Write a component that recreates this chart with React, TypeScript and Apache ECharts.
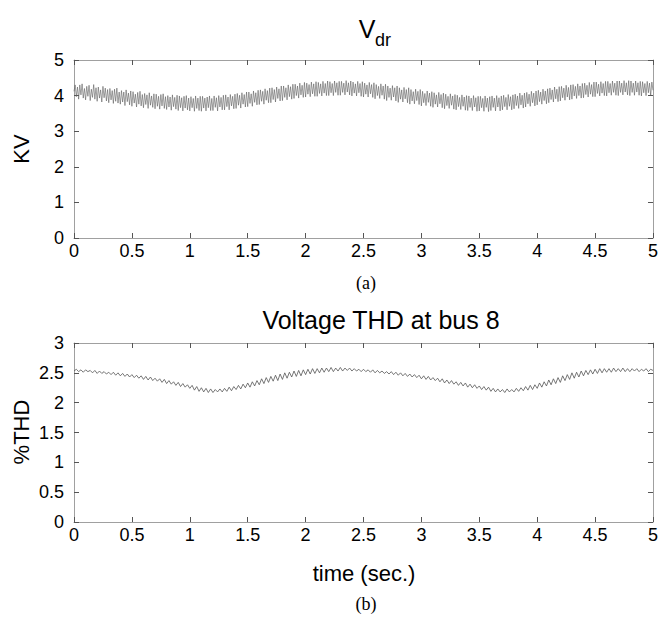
import React, { useEffect, useRef } from "react";
import * as echarts from "echarts";

// sample spacing of the traces, seconds
const vdrStep = 0.01;
const thdStep = 0.02;

// V_dr (kV), one value every 0.01 s from 0 to 5 s (one row = 0.1 s)
const vdrValues = [
  4.12, 4.30, 3.97, 4.24, 3.90, 4.30, 4.02, 4.33, 3.93, 4.20,
  3.88, 4.26, 3.98, 4.29, 3.86, 4.18, 3.95, 4.31, 3.90, 4.22,
  3.84, 4.24, 3.93, 4.16, 3.82, 4.26, 3.94, 4.21, 3.85, 4.17,
  3.80, 4.20, 3.88, 4.14, 3.78, 4.18, 3.84, 4.21, 3.79, 4.10,
  3.76, 4.14, 3.82, 4.10, 3.72, 4.16, 3.83, 4.07, 3.74, 4.13,
  3.70, 4.11, 3.79, 4.04, 3.68, 4.09, 3.76, 4.12, 3.71, 4.03,
  3.66, 4.06, 3.75, 4.02, 3.64, 4.08, 3.73, 3.99, 3.67, 4.05,
  3.63, 4.04, 3.70, 3.98, 3.62, 4.03, 3.71, 4.05, 3.64, 3.97,
  3.61, 4.00, 3.68, 3.96, 3.59, 4.02, 3.69, 3.95, 3.62, 4.01,
  3.58, 3.99, 3.66, 3.94, 3.57, 3.98, 3.65, 4.00, 3.60, 3.93,
  3.57, 3.97, 3.66, 3.92, 3.56, 3.99, 3.64, 3.93, 3.58, 3.98,
  3.56, 3.98, 3.65, 3.93, 3.57, 3.96, 3.66, 3.99, 3.58, 3.92,
  3.58, 3.99, 3.67, 3.94, 3.57, 4.00, 3.68, 3.95, 3.60, 4.01,
  3.60, 4.02, 3.69, 3.96, 3.60, 4.03, 3.71, 3.98, 3.63, 4.04,
  3.64, 4.06, 3.73, 4.01, 3.65, 4.08, 3.76, 4.03, 3.68, 4.10,
  3.69, 4.10, 3.78, 4.05, 3.70, 4.13, 3.81, 4.08, 3.74, 4.15,
  3.75, 4.16, 3.84, 4.12, 3.76, 4.19, 3.87, 4.14, 3.80, 4.21,
  3.80, 4.22, 3.89, 4.17, 3.82, 4.24, 3.92, 4.19, 3.85, 4.27,
  3.86, 4.27, 3.95, 4.22, 3.88, 4.30, 3.97, 4.25, 3.90, 4.32,
  3.92, 4.32, 4.00, 4.27, 3.93, 4.35, 4.02, 4.29, 3.95, 4.37,
  3.96, 4.35, 4.04, 4.31, 3.97, 4.38, 4.05, 4.33, 3.98, 4.39,
  3.98, 4.37, 4.06, 4.33, 3.99, 4.40, 4.07, 4.34, 4.00, 4.41,
  4.00, 4.39, 4.08, 4.34, 4.00, 4.41, 4.09, 4.36, 4.01, 4.40,
  4.01, 4.40, 4.09, 4.35, 4.02, 4.42, 4.10, 4.36, 4.02, 4.41,
  3.99, 4.38, 4.07, 4.33, 3.99, 4.40, 4.08, 4.34, 3.98, 4.39,
  3.96, 4.35, 4.04, 4.30, 3.96, 4.37, 4.05, 4.31, 3.95, 4.36,
  3.91, 4.31, 4.00, 4.26, 3.92, 4.33, 4.01, 4.27, 3.90, 4.32,
  3.86, 4.27, 3.95, 4.21, 3.87, 4.28, 3.96, 4.22, 3.85, 4.27,
  3.81, 4.22, 3.90, 4.16, 3.82, 4.23, 3.91, 4.17, 3.80, 4.22,
  3.76, 4.17, 3.85, 4.11, 3.77, 4.18, 3.86, 4.12, 3.75, 4.17,
  3.71, 4.12, 3.80, 4.06, 3.72, 4.13, 3.81, 4.07, 3.70, 4.11,
  3.67, 4.08, 3.76, 4.02, 3.68, 4.09, 3.77, 4.03, 3.66, 4.07,
  3.63, 4.04, 3.72, 3.98, 3.64, 4.05, 3.73, 3.99, 3.62, 4.03,
  3.60, 4.01, 3.69, 3.95, 3.61, 4.02, 3.70, 3.96, 3.59, 4.00,
  3.58, 3.99, 3.67, 3.93, 3.58, 4.00, 3.68, 3.94, 3.56, 3.98,
  3.57, 3.98, 3.66, 3.92, 3.56, 3.99, 3.67, 3.93, 3.55, 3.97,
  3.58, 3.99, 3.67, 3.93, 3.57, 4.00, 3.68, 3.94, 3.57, 3.99,
  3.60, 4.01, 3.69, 3.95, 3.60, 4.03, 3.70, 3.97, 3.60, 4.02,
  3.63, 4.04, 3.72, 3.99, 3.64, 4.07, 3.74, 4.01, 3.65, 4.07,
  3.68, 4.09, 3.77, 4.04, 3.70, 4.12, 3.80, 4.07, 3.71, 4.13,
  3.74, 4.15, 3.83, 4.10, 3.76, 4.18, 3.86, 4.13, 3.77, 4.19,
  3.80, 4.21, 3.89, 4.16, 3.82, 4.24, 3.91, 4.18, 3.83, 4.25,
  3.85, 4.26, 3.94, 4.21, 3.87, 4.29, 3.96, 4.23, 3.88, 4.30,
  3.90, 4.31, 3.99, 4.26, 3.92, 4.33, 4.00, 4.27, 3.93, 4.34,
  3.94, 4.35, 4.03, 4.29, 3.96, 4.37, 4.04, 4.31, 3.97, 4.38,
  3.97, 4.38, 4.06, 4.32, 3.99, 4.39, 4.07, 4.34, 4.00, 4.40,
  3.99, 4.40, 4.08, 4.34, 4.01, 4.41, 4.09, 4.35, 4.01, 4.41,
  4.00, 4.41, 4.09, 4.35, 4.02, 4.42, 4.10, 4.36, 4.02, 4.42,
  4.00, 4.41, 4.09, 4.35, 4.01, 4.41, 4.10, 4.36, 4.01, 4.40,
  3.99, 4.39, 4.08, 4.34, 4.00, 4.40, 4.08, 4.35, 4.00, 4.38,
  4.15,
];

// Voltage THD at bus 8 (%), one value every 0.02 s from 0 to 5 s
const thdValues = [
  2.53, 2.56, 2.52, 2.55, 2.51, 2.55, 2.52, 2.54, 2.50, 2.54,
  2.49, 2.53, 2.49, 2.52, 2.48, 2.51, 2.47, 2.51, 2.46, 2.50,
  2.45, 2.49, 2.44, 2.48, 2.43, 2.47, 2.42, 2.46, 2.41, 2.45,
  2.39, 2.44, 2.38, 2.43, 2.37, 2.41, 2.36, 2.40, 2.34, 2.39,
  2.32, 2.37, 2.31, 2.35, 2.29, 2.34, 2.27, 2.32, 2.26, 2.30,
  2.24, 2.29, 2.21, 2.27, 2.19, 2.25, 2.18, 2.24, 2.17, 2.23,
  2.17, 2.22, 2.18, 2.23, 2.18, 2.24, 2.19, 2.26, 2.20, 2.27,
  2.22, 2.29, 2.23, 2.31, 2.25, 2.33, 2.26, 2.35, 2.28, 2.37,
  2.30, 2.40, 2.32, 2.42, 2.34, 2.44, 2.36, 2.46, 2.37, 2.48,
  2.39, 2.50, 2.41, 2.51, 2.43, 2.53, 2.44, 2.54, 2.45, 2.55,
  2.47, 2.56, 2.48, 2.57, 2.49, 2.57, 2.50, 2.58, 2.51, 2.58,
  2.52, 2.59, 2.52, 2.58, 2.53, 2.59, 2.53, 2.58, 2.54, 2.58,
  2.53, 2.57, 2.53, 2.56, 2.52, 2.56, 2.52, 2.55, 2.51, 2.55,
  2.50, 2.54, 2.50, 2.53, 2.49, 2.52, 2.48, 2.52, 2.47, 2.51,
  2.46, 2.50, 2.45, 2.49, 2.44, 2.48, 2.43, 2.47, 2.42, 2.46,
  2.40, 2.45, 2.39, 2.44, 2.38, 2.42, 2.37, 2.41, 2.35, 2.40,
  2.33, 2.38, 2.32, 2.37, 2.31, 2.35, 2.29, 2.34, 2.28, 2.33,
  2.26, 2.31, 2.25, 2.30, 2.24, 2.28, 2.22, 2.27, 2.21, 2.26,
  2.19, 2.24, 2.18, 2.23, 2.18, 2.22, 2.17, 2.23, 2.18, 2.22,
  2.18, 2.24, 2.19, 2.25, 2.20, 2.27, 2.21, 2.29, 2.22, 2.30,
  2.24, 2.33, 2.26, 2.35, 2.28, 2.38, 2.30, 2.40, 2.32, 2.42,
  2.34, 2.45, 2.37, 2.47, 2.39, 2.50, 2.41, 2.51, 2.43, 2.53,
  2.45, 2.54, 2.47, 2.55, 2.48, 2.56, 2.49, 2.57, 2.50, 2.57,
  2.51, 2.57, 2.51, 2.58, 2.52, 2.57, 2.52, 2.58, 2.52, 2.57,
  2.52, 2.57, 2.53, 2.57, 2.52, 2.56, 2.53, 2.57, 2.52, 2.56,
  2.54,
];

const timeRange = [0, 5];
const timeTickStep = 0.5;
const vdrRange = [0, 5];
const vdrTickStep = 1;
const thdRange = [0, 3];
const thdTickStep = 0.5;

const titleTop = "V";
const titleTopSub = "dr";
const titleBottom = "Voltage THD at bus 8";
const yNameTop = "KV";
const yNameBottom = "%THD";
const xNameBottom = "time (sec.)";
const captionTop = "(a)";
const captionBottom = "(b)";

const SANS = "'Liberation Sans', Arial, sans-serif";
const SERIF = "'Liberation Serif', 'Times New Roman', serif";

export default function App() {
  const ref = useRef<HTMLDivElement>(null);

  useEffect(() => {
    document.body.style.margin = "0";
    if (!ref.current) return;
    const chart = echarts.init(ref.current, undefined, { renderer: "svg" });

    const toPairs = (vals: number[], step: number) =>
      vals.map((v, i) => [Number((i * step).toFixed(3)), v]);

    const axisLineStyle = { color: "#a0a0a0", width: 1 };
    const tickStyle = { color: "#555", width: 1 };
    const labelStyle = {
      fontFamily: SANS,
      fontSize: 18,
      color: "#000",
    };

    const mkX = (gridIndex: number, pos: "bottom" | "top") => ({
      type: "value",
      gridIndex,
      position: pos,
      min: timeRange[0],
      max: timeRange[1],
      interval: timeTickStep,
      axisLine: { show: true, onZero: false, lineStyle: axisLineStyle },
      axisTick: { show: true, inside: true, length: 5, lineStyle: tickStyle },
      axisLabel: {
        show: pos === "bottom",
        margin: 4,
        showMinLabel: true,
        showMaxLabel: true,
        ...labelStyle,
      },
      splitLine: { show: false },
    });

    const mkY = (
      gridIndex: number,
      pos: "left" | "right",
      range: number[],
      step: number
    ) => ({
      type: "value",
      gridIndex,
      position: pos,
      min: range[0],
      max: range[1],
      interval: step,
      axisLine: { show: true, onZero: false, lineStyle: axisLineStyle },
      axisTick: { show: true, inside: true, length: 5, lineStyle: tickStyle },
      axisLabel: {
        show: pos === "left",
        margin: 10,
        showMinLabel: true,
        showMaxLabel: true,
        ...labelStyle,
      },
      splitLine: { show: false },
    });

    chart.setOption({
      animation: false,
      backgroundColor: "#fff",
      grid: [
        { left: 74, top: 60, width: 582, height: 178, containLabel: false },
        { left: 74, top: 343, width: 582, height: 179, containLabel: false },
      ],
      xAxis: [mkX(0, "bottom"), mkX(0, "top"), mkX(1, "bottom"), mkX(1, "top")],
      yAxis: [
        mkY(0, "left", vdrRange, vdrTickStep),
        mkY(0, "right", vdrRange, vdrTickStep),
        mkY(1, "left", thdRange, thdTickStep),
        mkY(1, "right", thdRange, thdTickStep),
      ],
      series: [
        {
          type: "line",
          xAxisIndex: 0,
          yAxisIndex: 0,
          data: toPairs(vdrValues, vdrStep),
          showSymbol: false,
          lineStyle: { color: "#5e5e5e", width: 0.6 },
        },
        {
          type: "line",
          xAxisIndex: 2,
          yAxisIndex: 2,
          data: toPairs(thdValues, thdStep),
          showSymbol: false,
          lineStyle: { color: "#555", width: 0.8 },
        },
      ],
      graphic: [
        {
          type: "text",
          x: 367,
          y: 29,
          style: {
            text: titleTop,
            font: `25px ${SANS}`,
            fill: "#000",
            align: "center",
            verticalAlign: "middle",
          },
        },
        {
          type: "text",
          x: 375,
          y: 40,
          style: {
            text: titleTopSub,
            font: `18px ${SANS}`,
            fill: "#000",
            align: "left",
            verticalAlign: "middle",
          },
        },
        {
          type: "text",
          x: 381,
          y: 320,
          style: {
            text: titleBottom,
            font: `25px ${SANS}`,
            fill: "#000",
            align: "center",
            verticalAlign: "middle",
          },
        },
        {
          type: "text",
          x: 21,
          y: 149,
          rotation: Math.PI / 2,
          style: {
            text: yNameTop,
            font: `22px ${SANS}`,
            fill: "#000",
            align: "center",
            verticalAlign: "middle",
          },
        },
        {
          type: "text",
          x: 21,
          y: 432,
          rotation: Math.PI / 2,
          style: {
            text: yNameBottom,
            font: `22px ${SANS}`,
            fill: "#000",
            align: "center",
            verticalAlign: "middle",
          },
        },
        {
          type: "text",
          x: 364,
          y: 573,
          style: {
            text: xNameBottom,
            font: `22px ${SANS}`,
            fill: "#000",
            align: "center",
            verticalAlign: "middle",
          },
        },
        {
          type: "text",
          x: 366,
          y: 283,
          style: {
            text: captionTop,
            font: `18px ${SERIF}`,
            fill: "#000",
            align: "center",
            verticalAlign: "middle",
          },
        },
        {
          type: "text",
          x: 366,
          y: 604,
          style: {
            text: captionBottom,
            font: `18px ${SERIF}`,
            fill: "#000",
            align: "center",
            verticalAlign: "middle",
          },
        },
      ],
    });

    return () => chart.dispose();
  }, []);

  return <div ref={ref} style={{ width: 661, height: 618 }} />;
}
